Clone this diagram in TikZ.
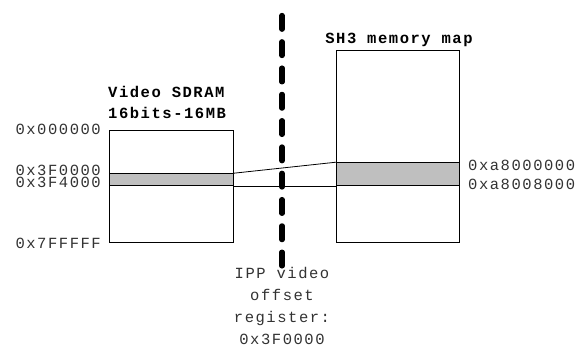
\documentclass[tikz,border=0pt]{standalone}
\usepackage{fontspec}
\setmainfont[LetterSpace=10]{Liberation Mono}
\usepackage{tikz}
\usetikzlibrary{positioning,calc}

\begin{document}
\begin{tikzpicture}[x=1pt,y=-1pt,font=\fontsize{15.5}{22}\selectfont]
\tikzstyle{memblock}=[draw,line width=0.8pt,inner sep=0pt]
\tikzstyle{window}=[draw,fill=black!25,line width=0.8pt,inner sep=0pt]
\tikzstyle{addr}=[inner sep=0pt,text=black!80,text height=10pt,text depth=0pt]
\tikzstyle{title}=[inner sep=0pt,font=\fontsize{15.5}{21}\selectfont\bfseries,align=left]
\useasboundingbox (0,0) rectangle (578,349);
% the two memory maps
\node[memblock,minimum width=124pt,minimum height=112pt,anchor=north west]
     (sdram) at (109,130) {};
\node[memblock,minimum width=123pt,minimum height=192pt,anchor=north west]
     (sh3) at (336,50) {};
\node[window,minimum width=124pt,minimum height=12pt,anchor=south west]
     (sdramwin) at (109,186) {};
\node[window,minimum width=123pt,minimum height=23pt,anchor=south west]
     (sh3win) at (336,186) {};
\node[title,anchor=west] (sdramtitle) at (108,102.5) {Video SDRAM\\16bits-16MB};
\node[title] (sh3title) at (399,39.5) {SH3 memory map};
% addresses
\node[addr,anchor=east] (a0) at (101,129) {0x000000};
\node[addr,anchor=east] (a1) at (101,170) {0x3F0000};
\node[addr,anchor=east] (a2) at (101,182.5) {0x3F4000};
\node[addr,anchor=east] (a3) at (101,243) {0x7FFFFF};
\node[addr,anchor=west] (b0) at (468,165) {0xa8000000};
\node[addr,anchor=west] (b1) at (468,184.5) {0xa8008000};
% window mapping
\draw[line width=0.8pt] (sdramwin.north east) -- (sh3win.north west);
\draw[line width=0.8pt] (sdramwin.south east) -- (sh3win.south west);
% offset register
\coordinate (divtop) at (282,15.5);
\node[inner sep=0pt,text=black!80,align=center,anchor=north] (ippreg) at (282,267.5)
     {IPP video\\offset\\register:\\0x3F0000};
\draw[line width=5.3pt,line cap=round,dash pattern=on 13.7pt off 12.6pt]
     (divtop) -- (282,266);
\end{tikzpicture}
\end{document}
